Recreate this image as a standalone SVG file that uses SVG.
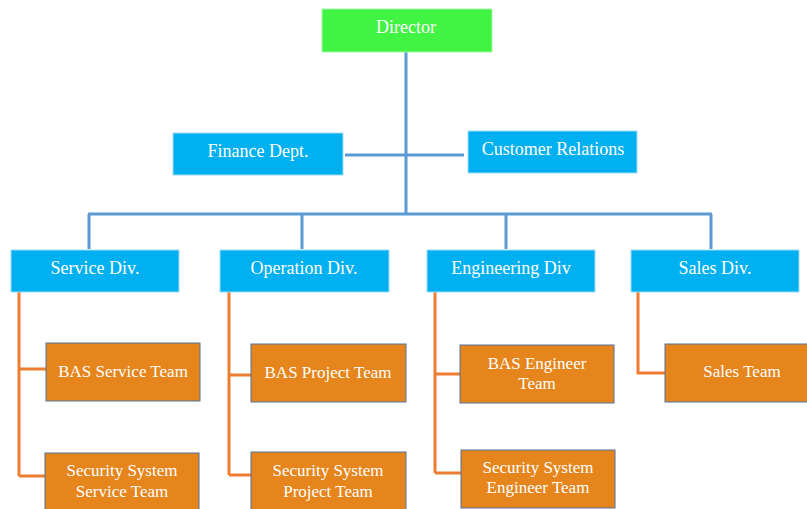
<svg xmlns="http://www.w3.org/2000/svg" width="807" height="509" viewBox="0 0 807 509">
<style>
.t{font-family:"Liberation Serif","Times New Roman",serif;font-size:18px;fill:#fff;text-anchor:middle}
.s{font-size:17px}
.top{fill:#41F443;stroke:#A8F5A9;stroke-width:1}
.blue{fill:#00B0F0;stroke:#9FDDF5;stroke-width:1}
.org{fill:#E5851C;stroke:#4F74A0;stroke-width:1}
.cb{stroke:#5B9BD5;stroke-width:3;fill:none}
.co{stroke:#ED7D31;stroke-width:3;fill:none}
</style>
<rect width="807" height="509" fill="#fff"/>
<g id="connectors">
<path class="cb" d="M406 52V215M345 155H464M88 214H712M89 214V249M302 214V249M506 214V249M711 214V249"/>
<path class="co" d="M19 292V476M19 369H46M19 476H45"/>
<path class="co" d="M229 292V475M229 375H251M229 475H251"/>
<path class="co" d="M435 292V473M435 374H460M435 473H461"/>
<path class="co" d="M638 292V373H665"/>
</g>
<g id="director"><rect class="top" x="322" y="9" width="170" height="43"/><text class="t" x="406" y="33">Director</text></g>
<g id="finance"><rect class="blue" x="173" y="133" width="170" height="42"/><text class="t" x="258" y="157">Finance Dept.</text></g>
<g id="customer"><rect class="blue" x="468" y="131" width="169" height="42"/><text class="t" x="553" y="155">Customer Relations</text></g>
<g id="service"><rect class="blue" x="11" y="250" width="168" height="42"/><text class="t" x="95" y="274">Service Div.</text></g>
<g id="operation"><rect class="blue" x="220" y="250" width="169" height="42"/><text class="t" x="304" y="274">Operation Div.</text></g>
<g id="engineering"><rect class="blue" x="427" y="250" width="168" height="42"/><text class="t" x="511" y="274">Engineering Div</text></g>
<g id="sales"><rect class="blue" x="631" y="250" width="168" height="42"/><text class="t" x="715" y="274">Sales Div.</text></g>
<g id="bas-service"><rect class="org" x="46" y="343" width="154" height="58"/><text class="t s" x="123" y="377">BAS Service Team</text></g>
<g id="sec-service"><rect class="org" x="45" y="453" width="154" height="60"/><text class="t s" x="122" y="476">Security System</text><text class="t s" x="122" y="497">Service Team</text></g>
<g id="bas-project"><rect class="org" x="251" y="344" width="155" height="58"/><text class="t s" x="328" y="378">BAS Project Team</text></g>
<g id="sec-project"><rect class="org" x="251" y="452" width="155" height="60"/><text class="t s" x="328" y="476">Security System</text><text class="t s" x="328" y="497">Project Team</text></g>
<g id="bas-engineer"><rect class="org" x="460" y="345" width="154" height="58"/><text class="t s" x="537" y="369">BAS Engineer</text><text class="t s" x="537" y="389">Team</text></g>
<g id="sec-engineer"><rect class="org" x="461" y="450" width="154" height="58"/><text class="t s" x="538" y="473">Security System</text><text class="t s" x="538" y="493">Engineer Team</text></g>
<g id="sales-team"><rect class="org" x="665" y="344" width="155" height="58"/><text class="t s" x="742" y="377">Sales Team</text></g>
</svg>
